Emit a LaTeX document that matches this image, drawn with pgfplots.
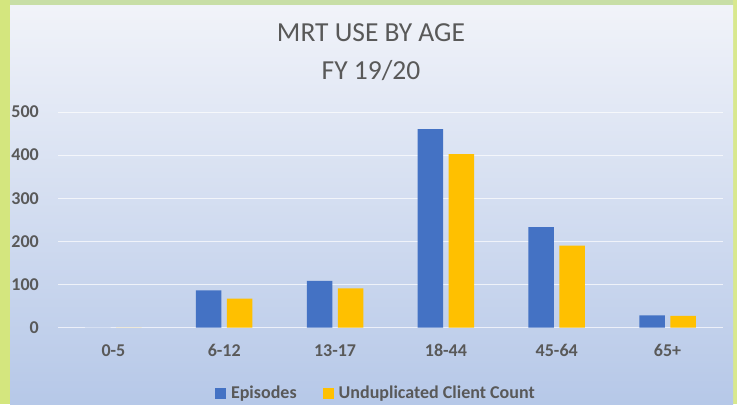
\documentclass[border=0pt]{standalone}
\usepackage{fontspec}
\setmainfont{Carlito}
\usepackage{pgfplots}
\pgfplotsset{compat=1.18}
\definecolor{bordg}{HTML}{C8DEA6}
\definecolor{bordl}{HTML}{D4E67E}
\definecolor{bordr}{HTML}{D8E88E}
\definecolor{bgtop}{HTML}{F1F3F9}
\definecolor{bgbot}{HTML}{B6C8E8}
\definecolor{epblue}{HTML}{4472C4}
\definecolor{clyel}{HTML}{FFC000}
\definecolor{txtgray}{HTML}{595959}
\begin{document}
\begin{tikzpicture}[x=1pt,y=1pt]
\fill[bordg] (0,0) rectangle (737,404);
\fill[bordl] (0,0) rectangle (10,404);
\fill[bordr] (733,0) rectangle (737,404);
\shade[top color=bgtop, bottom color=bgbot] (10,0) rectangle (733,398);
\node[text=txtgray, font=\fontsize{27.5}{30}\selectfont, inner sep=0pt] at (371,371) {MRT USE BY AGE};
\node[text=txtgray, font=\fontsize{27.5}{30}\selectfont, inner sep=0pt] at (371,333) {FY 19/20};
\begin{axis}[
  at={(58pt,76.5pt)}, anchor=south west,
  scale only axis, width=665pt, height=215.5pt,
  xmin=-0.5, xmax=5.5, ymin=0, ymax=500,
  xtick={0,1,2,3,4,5},
  xticklabels={0-5,6-12,13-17,18-44,45-64,65+},
  ytick={0,100,200,300,400,500},
  axis line style={draw=none},
  tick style={draw=none},
  major tick length=0pt,
  ymajorgrids,
  grid style={white, opacity=0.7, line width=1pt},
  ybar=5.5pt, bar width=25.5pt,
  /pgf/number format/assume math mode=true,
  ticklabel style={font=\fontsize{18}{18}\selectfont\bfseries, text=txtgray},
  yticklabel style={anchor=east, inner sep=0pt, xshift=-19pt},
  xticklabel style={anchor=center, inner sep=0pt, yshift=-23pt},
  legend style={at={(axis description cs:0.478,-0.304)}, anchor=center,
    draw=none, fill=none, legend columns=2,
    font=\fontsize{18}{18}\selectfont\bfseries, text=txtgray,
    /tikz/every even column/.append style={column sep=24pt}},
  legend image code/.code={\fill[#1] (0pt,-5.5pt) rectangle (11pt,5.5pt); \path (14pt,0pt);},
]
\addplot[fill=epblue, draw=none] coordinates {(0,0) (1,86) (2,108) (3,460) (4,233) (5,28)};
\addplot[fill=clyel, draw=none] coordinates {(0,0) (1,67) (2,91) (3,402) (4,190) (5,27)};
\legend{Episodes, Unduplicated Client Count}
\end{axis}
\end{tikzpicture}
\end{document}
